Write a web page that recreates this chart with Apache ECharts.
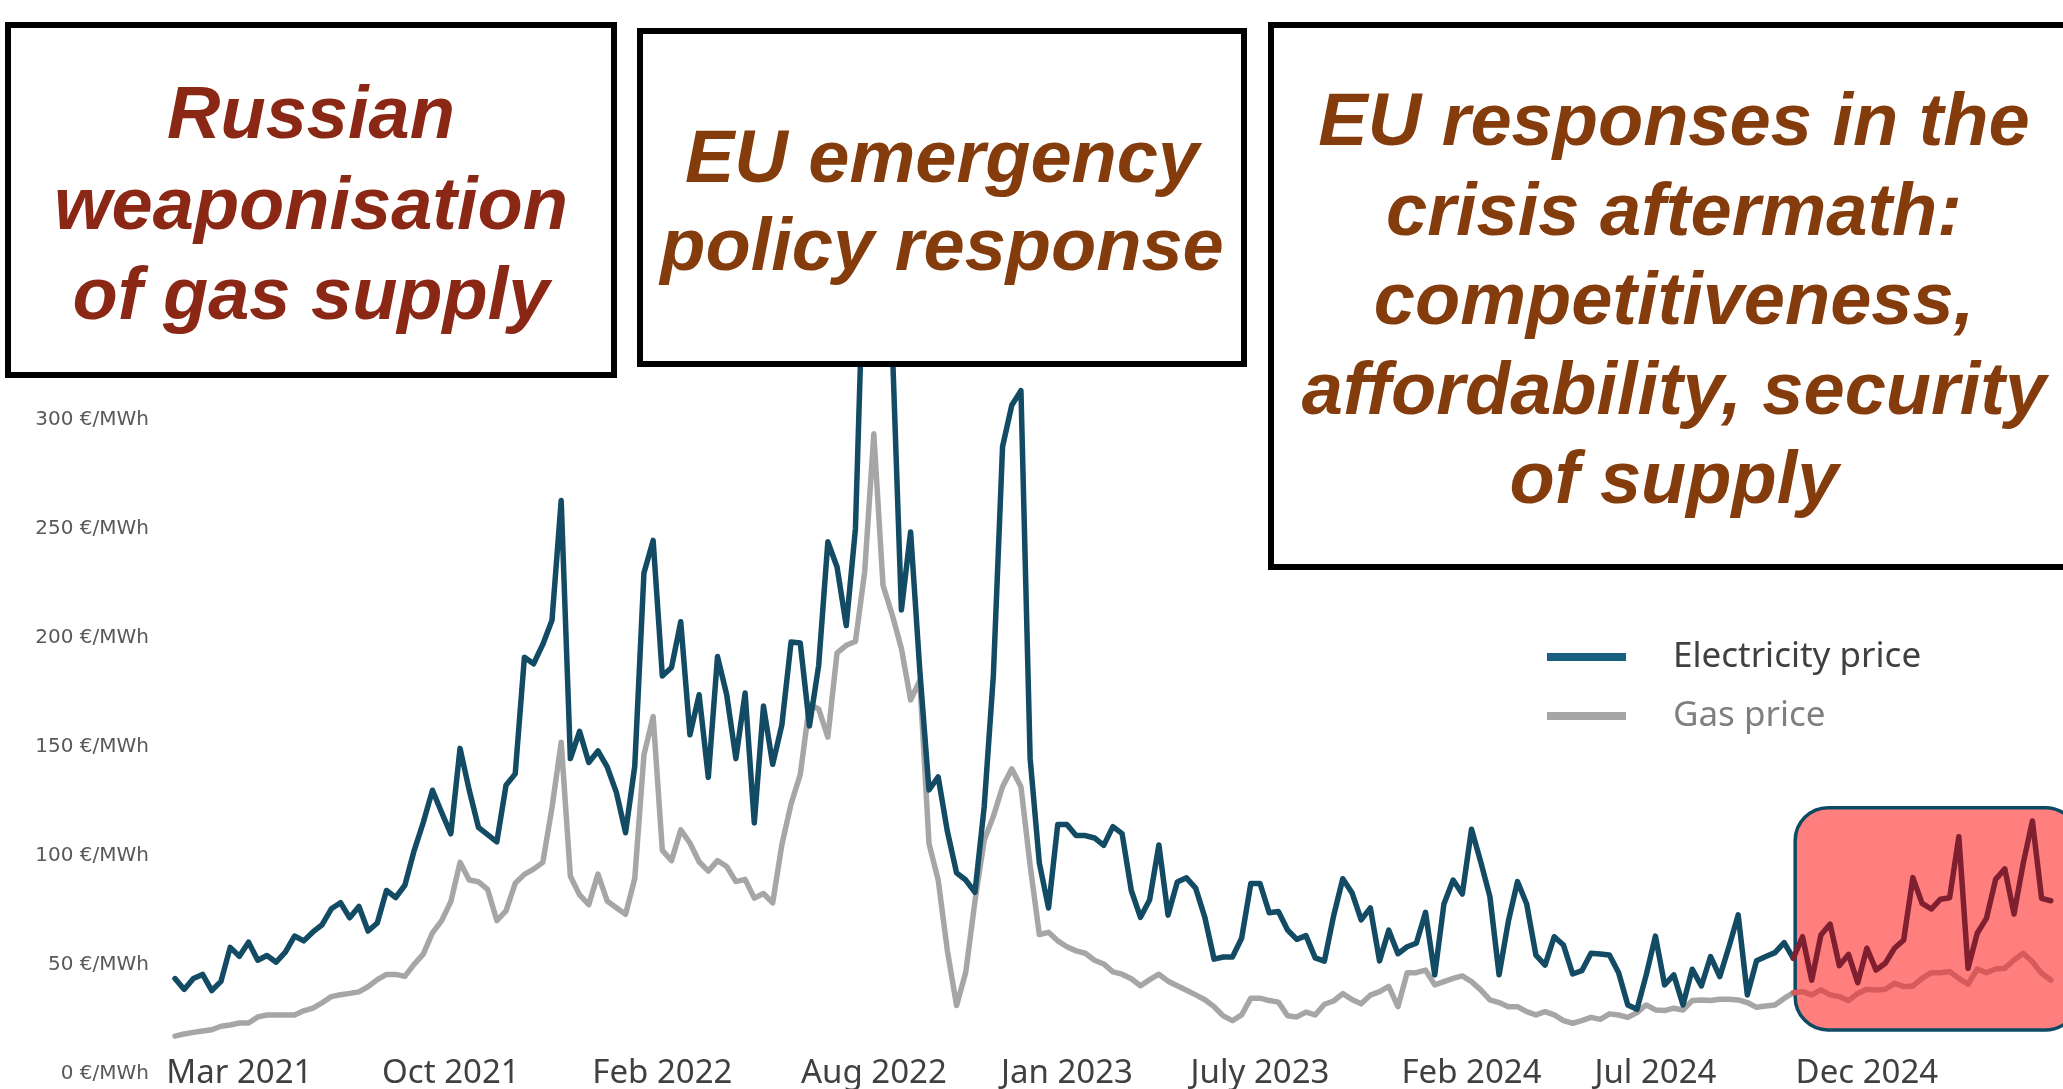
<!DOCTYPE html>
<html>
<head>
<meta charset="utf-8">
<script src="https://cdn.jsdelivr.net/npm/echarts@6/dist/echarts.min.js"></script>
<style>
html,body{margin:0;padding:0;background:#fff;}
#chart{width:2063px;height:1089px;}
</style>
</head>
<body>
<div id="chart"></div>
<script>
// Weekly prices (EUR/MWh)
const electricity = [
43.6,38.6,43.6,45.5,38.1,42.3,57.9,53.8,60.3,52,
54.2,51.1,55.7,63.1,60.9,65,68.3,75.6,78.4,71.5,
76.7,65.4,69.1,84,80.8,86.4,102.2,115.2,130,119.8,
110,149.2,130,113,109.6,106.3,132.3,137.5,191,188,
196.9,208,262.9,144.5,157,142.7,148,140.7,129,110.5,
141,229.7,244.6,182.4,186.3,207.3,155.4,173.8,135.9,191.3,
173.8,144.5,174.6,115,168.6,141.9,160,198,197.5,159.5,
187.2,244,232.4,205.5,250,390,440,410,335,212.7,
248.5,185,130.1,136.1,111.1,92.1,88.8,83.2,122.3,182.6,
287.6,306.6,313.3,144.6,96.6,76,114.3,114.3,109.2,109.2,
108.1,104.7,113.3,110.1,84,71.7,79.8,104.9,72.7,87.9,
89.8,85.1,71.7,52.5,53.5,53.5,62.1,87.2,87.2,73.8,
74.4,65.9,61.6,63.3,53.1,51.6,72.3,89.4,83,70.5,
76,51.7,65.8,55,58.2,59.8,74,45.3,77.8,88.8,
82.4,112.1,97.2,81.2,45.3,69.7,88.1,77.8,54.4,49.8,
62.8,59,45.7,47.2,55.2,54.9,54.4,46.3,31.5,29.5,
45.3,63.1,40.7,45.3,31.5,47.9,40.2,53.7,44.5,58.2,
72.8,36.1,51.8,53.7,55.5,60.1,52.9,62.8,42.9,63.6,
68.6,49.5,54.7,41.7,57.5,47.5,50.6,57.5,61.3,89.9,
78.1,75.5,80,80.7,108.7,48.3,64.4,71.2,89.1,93.9,
73.2,96.5,115.9,80.4,79.3
];
const gas = [
17.2,18.2,18.9,19.5,20.1,21.7,22.3,23.2,23.2,26,
26.9,26.9,26.9,26.9,28.8,30,32.5,35.3,36.2,36.8,
37.5,39.9,43.1,45.5,45.5,44.6,50.1,54.8,64.6,70.2,
78.9,96.9,88.8,88,84.5,70.2,74.7,87.3,91.4,93.8,
96.9,122,152,90.5,82,77.5,91.5,79.2,76.1,73.1,
89.5,146.2,163.8,102.4,97.7,111.8,105.8,97.2,92.9,97.7,
95,88.1,89.1,80.5,82.6,78.3,105,123.7,137.2,169.3,
167.3,154.4,193,196.5,198.2,230,293.5,224,210.5,195,
171.4,180.4,105.5,88.8,56.4,31.2,46.5,79.2,107,118,
131.6,139.8,131.6,95.5,63.8,64.8,60.9,58.2,56.3,55.2,
52,50.3,46.7,45.6,43.5,40.3,43.1,45.6,42.4,40.3,
38.2,36.1,33.9,30.7,26.5,24.3,26.9,34.6,34.6,33.5,
32.8,26.5,26,28.2,26.9,31.8,33.3,36.7,34,32,
36,37.6,40,30.7,46.3,46.3,47.5,40.7,42.2,43.7,
44.8,42.2,38.4,33.8,32.6,30.7,30.7,28.4,26.9,28.4,
26.9,24.3,23.1,24.3,25.8,24.9,27.4,26.9,25.8,28,
31.5,29.2,28.9,30,29.2,33.5,33.8,33.5,34.1,34.1,
33.8,32.6,30.4,31,31.5,34.5,37.1,37.6,36.1,38.4,
36.1,35.3,33.5,36.8,38.7,38.4,38.7,41.4,39.9,40.2,
43.7,46.3,46.3,46.8,43.7,41,48,46.3,48,48.3,
52.1,55.2,51.3,46,42.9
];
// Week index of each x tick label
const xTickLabels = ['Mar 2021','Oct 2021','Feb 2022','Aug 2022','Jan 2023','July 2023','Feb 2024','Jul 2024','Dec 2024'];
const xTickWeeks  = [7, 30, 53, 76, 97, 118, 141, 161, 184];
const yTickMaxShown = 300;
// Highlighted recent period (data coordinates)
const highlightFromWeek = 176.2;
const highlightToWeek = 207;
const highlightLow = 20;
const highlightHigh = 122;

const seriesNames = ['Electricity price', 'Gas price'];
const weeks = electricity.map((_, i) => i);
const splitWeek = Math.floor(highlightFromWeek);
const before = (arr) => arr.map((v, i) => i <= splitWeek ? v : null);
const after = (arr) => arr.map((v, i) => i >= splitWeek ? v : null);

const BLUE = '#124B63', GRAY = '#A6A6A6', MAROON = '#801F30', ROSE = '#D75B5B';

const chart = echarts.init(document.getElementById('chart'), null, {renderer: 'canvas'});

const boxes = [
  {x: 8, y: 25, w: 606, h: 350, cx: 311, cy: 208.5, lh: 90.5, color: '#8B2815',
   text: 'Russian\nweaponisation\nof gas supply'},
  {x: 640, y: 31, w: 604, h: 333, cx: 942, cy: 206, lh: 88, color: '#843C0C',
   text: 'EU emergency\npolicy response'},
  {x: 1271, y: 25, w: 806, h: 542, cx: 1674, cy: 304, lh: 89.5, color: '#843C0C',
   text: 'EU responses in the\ncrisis aftermath:\ncompetitiveness,\naffordability, security\nof supply'}
];

const boxGraphics = boxes.map((b, i) => ({
  type: 'group', id: 'box' + i, z: 100,
  children: [
    {type: 'rect', shape: {x: b.x, y: b.y, width: b.w, height: b.h},
     style: {fill: '#ffffff', stroke: '#000000', lineWidth: 6}, z: 100},
    {type: 'text', x: b.cx, y: b.cy, z: 101,
     style: {text: b.text, fill: b.color,
       font: 'italic bold 74px "Liberation Sans", Arial, sans-serif',
       align: 'center', verticalAlign: 'middle', lineHeight: b.lh}}
  ]
}));

const lineOpts = (name, data, color, z) => ({
  name, type: 'line', data, showSymbol: false, z, connectNulls: false,
  lineStyle: {width: 5.5, color, cap: 'round', join: 'round'}, itemStyle: {color},
  emphasis: {disabled: true}
});

const option = {
  animation: false,
  backgroundColor: '#ffffff',
  grid: {left: 175, right: 12.2, top: 92.7, bottom: 15.4, containLabel: false, outerBoundsMode: 'none'},
  xAxis: {
    type: 'category', data: weeks, boundaryGap: false,
    axisLine: {show: false}, axisTick: {show: false}, splitLine: {show: false},
    axisLabel: {
      interval: (idx) => xTickWeeks.indexOf(idx) >= 0,
      formatter: (val) => { const k = xTickWeeks.indexOf(Number(val)); return k >= 0 ? xTickLabels[k] : ''; },
      margin: 0, verticalAlign: 'middle',
      color: '#404040', fontSize: 33, fontFamily: '"Noto Sans", sans-serif'
    }
  },
  yAxis: {
    type: 'value', min: 0, max: 450, interval: 50,
    axisLine: {show: false}, axisTick: {show: false}, splitLine: {show: false},
    axisLabel: {
      margin: 26, color: '#595959', fontSize: 20, fontFamily: '"DejaVu Sans", sans-serif',
      formatter: (v) => v <= yTickMaxShown ? v + ' €/MWh' : ''
    }
  },
  legend: {
    orient: 'vertical', left: 1542, top: 632,
    itemWidth: 79, itemHeight: 8, itemGap: 19,
    textStyle: {fontSize: 35, fontFamily: '"Noto Sans", sans-serif', lineHeight: 40, padding: [0, 0, 0, 42]},
    data: [
      {name: seriesNames[0], icon: 'rect', itemStyle: {color: '#18607F'}, textStyle: {color: '#404040'}},
      {name: seriesNames[1], icon: 'rect', itemStyle: {color: '#A6A6A6'}, textStyle: {color: '#7F7F7F'}}
    ]
  },
  series: [
    lineOpts(seriesNames[1], before(gas), GRAY, 2),
    lineOpts(seriesNames[0], before(electricity), BLUE, 3),
    lineOpts(seriesNames[1] + ' (recent)', after(gas), ROSE, 4),
    lineOpts(seriesNames[0] + ' (recent)', after(electricity), MAROON, 5)
  ],
  graphic: boxGraphics
};
chart.setOption(option);

// Highlight box placed through the chart's own scales
const hxA = chart.convertToPixel({xAxisIndex: 0}, splitWeek);
const hxB = chart.convertToPixel({xAxisIndex: 0}, splitWeek + 1);
const hLeft = hxA + (highlightFromWeek - splitWeek) * (hxB - hxA);
const hRight = hxA + (highlightToWeek - splitWeek) * (hxB - hxA);
const hTop = chart.convertToPixel({yAxisIndex: 0}, highlightHigh);
const hBottom = chart.convertToPixel({yAxisIndex: 0}, highlightLow);
chart.setOption({
  graphic: boxGraphics.concat([{
    type: 'rect', id: 'highlight', z: 0, zlevel: 0,
    shape: {x: hLeft, y: hTop, width: hRight - hLeft, height: hBottom - hTop, r: 33},
    style: {fill: '#FF7F7F', stroke: '#0F4A63', lineWidth: 3.5}
  }])
});
</script>
</body>
</html>
